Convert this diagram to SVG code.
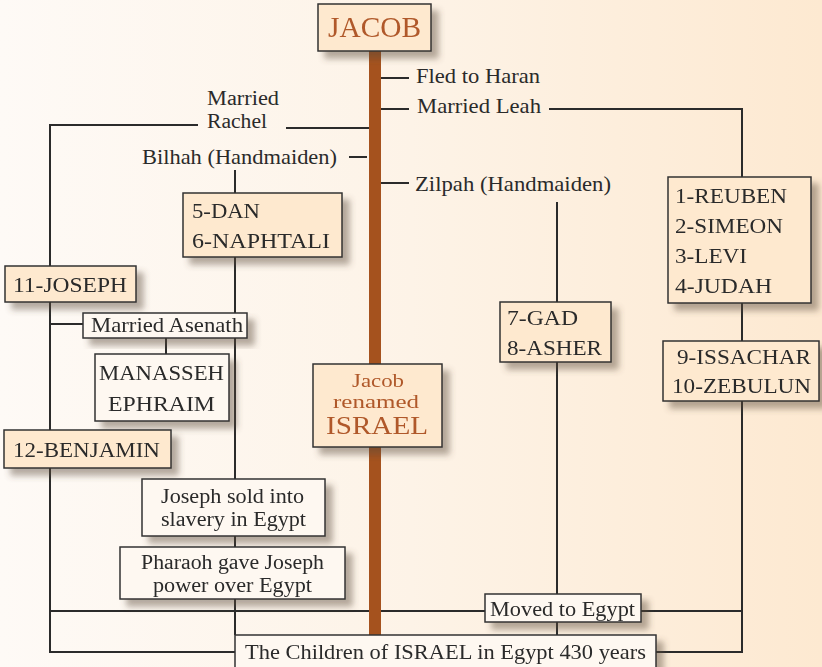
<svg xmlns="http://www.w3.org/2000/svg" width="822" height="667" viewBox="0 0 822 667">
<defs>
<linearGradient id="bg" x1="0" y1="0" x2="1" y2="0">
<stop offset="0" stop-color="#fefaf6"/>
<stop offset="0.5" stop-color="#fdf3e7"/>
<stop offset="1" stop-color="#fde9d1"/>
</linearGradient>
<filter id="sh" x="-20%" y="-20%" width="150%" height="160%">
<feGaussianBlur in="SourceAlpha" stdDeviation="3"/>
<feOffset dx="7" dy="7" result="b"/>
<feFlood flood-color="#5a4a3a" flood-opacity="0.45"/>
<feComposite in2="b" operator="in"/>
<feMerge><feMergeNode/><feMergeNode in="SourceGraphic"/></feMerge>
</filter>
<style>
.o{fill:#fee9cf;stroke:#333;stroke-width:1.5}
.w{fill:#fef8f1;stroke:#333;stroke-width:1.5}
.t{font-family:"Liberation Serif","Times New Roman",serif;font-size:22px;fill:#2a2a2a}
.s{font-size:20px}
.b{font-family:"Liberation Serif","Times New Roman",serif;fill:#b0592a}
.c{fill:none;stroke:#2b2b2b;stroke-width:2}
</style>
</defs>
<rect width="822" height="667" fill="url(#bg)"/>
<g id="connectors" class="c">
<path d="M381 78H409"/>
<path d="M381 109H409M549 109H742V177"/>
<path d="M286 128H369M198 125H50V266M50 302V430M50 468V652H235"/>
<path d="M50 324H83M166 338V354"/>
<path d="M349 157H367M235 170V193"/>
<path d="M235 257V479M235 536V547M235 599V635"/>
<path d="M381 183H409M557 202V302M557 362V594M557 622V635"/>
<path d="M742 303V341M742 401V652H656"/>
<path d="M50 611H485M641 611H742"/>
<rect id="trunk" x="369" y="51" width="12" height="585" fill="#a5521e" stroke="none"/>
</g>
<g id="labels">
<text class="t" x="416" y="83" textLength="124" lengthAdjust="spacingAndGlyphs">Fled to Haran</text>
<text class="t" x="417" y="113" textLength="124" lengthAdjust="spacingAndGlyphs">Married Leah</text>
<text class="t s" x="207" y="105" textLength="72" lengthAdjust="spacingAndGlyphs">Married</text>
<text class="t s" x="207" y="128" textLength="60" lengthAdjust="spacingAndGlyphs">Rachel</text>
<text class="t" x="142" y="164" textLength="195" lengthAdjust="spacingAndGlyphs">Bilhah (Handmaiden)</text>
<text class="t" x="415" y="191" textLength="196" lengthAdjust="spacingAndGlyphs">Zilpah (Handmaiden)</text>
</g>
<g id="jacob" filter="url(#sh)">
<rect class="o" x="318" y="4" width="113" height="47"/>
<text class="b" x="328" y="37" font-size="30" textLength="93" lengthAdjust="spacingAndGlyphs">JACOB</text>
</g>
<g id="dan" filter="url(#sh)">
<rect class="o" x="183" y="193" width="159" height="64"/>
<text class="t" x="192" y="218" textLength="68" lengthAdjust="spacingAndGlyphs">5-DAN</text>
<text class="t" x="192" y="248" textLength="138" lengthAdjust="spacingAndGlyphs">6-NAPHTALI</text>
</g>
<g id="joseph" filter="url(#sh)">
<rect class="o" x="5" y="266" width="131" height="36"/>
<text class="t" x="13" y="292" textLength="114" lengthAdjust="spacingAndGlyphs">11-JOSEPH</text>
</g>
<g id="asenath" filter="url(#sh)">
<rect class="w" x="83" y="313" width="164" height="25"/>
<text class="t" x="91" y="332" textLength="152" lengthAdjust="spacingAndGlyphs">Married Asenath</text>
</g>
<g id="manasseh" filter="url(#sh)">
<rect class="w" x="95" y="354" width="134" height="67"/>
<text class="t" x="99" y="380" textLength="125" lengthAdjust="spacingAndGlyphs">MANASSEH</text>
<text class="t" x="108" y="411" textLength="107" lengthAdjust="spacingAndGlyphs">EPHRAIM</text>
</g>
<g id="benjamin" filter="url(#sh)">
<rect class="o" x="4" y="430" width="167" height="38"/>
<text class="t" x="13" y="457" textLength="147" lengthAdjust="spacingAndGlyphs">12-BENJAMIN</text>
</g>
<g id="israel" filter="url(#sh)">
<rect class="o" x="313" y="364" width="129" height="83"/>
<text class="b" x="352" y="387" font-size="19" textLength="52" lengthAdjust="spacingAndGlyphs">Jacob</text>
<text class="b" x="333" y="408" font-size="19" textLength="86" lengthAdjust="spacingAndGlyphs">renamed</text>
<text class="b" x="326" y="434" font-size="26" textLength="102" lengthAdjust="spacingAndGlyphs">ISRAEL</text>
</g>
<g id="gad" filter="url(#sh)">
<rect class="o" x="500" y="302" width="111" height="60"/>
<text class="t" x="507" y="325" textLength="71" lengthAdjust="spacingAndGlyphs">7-GAD</text>
<text class="t" x="507" y="355" textLength="95" lengthAdjust="spacingAndGlyphs">8-ASHER</text>
</g>
<g id="reuben" filter="url(#sh)">
<rect class="o" x="668" y="177" width="143" height="126"/>
<text class="t" x="675" y="203" textLength="112" lengthAdjust="spacingAndGlyphs">1-REUBEN</text>
<text class="t" x="675" y="233" textLength="108" lengthAdjust="spacingAndGlyphs">2-SIMEON</text>
<text class="t" x="675" y="263" textLength="72" lengthAdjust="spacingAndGlyphs">3-LEVI</text>
<text class="t" x="675" y="293" textLength="97" lengthAdjust="spacingAndGlyphs">4-JUDAH</text>
</g>
<g id="issachar" filter="url(#sh)">
<rect class="o" x="663" y="341" width="156" height="60"/>
<text class="t" x="677" y="364" textLength="134" lengthAdjust="spacingAndGlyphs">9-ISSACHAR</text>
<text class="t" x="672" y="393" textLength="139" lengthAdjust="spacingAndGlyphs">10-ZEBULUN</text>
</g>
<g id="sold" filter="url(#sh)">
<rect class="w" x="142" y="479" width="183" height="57"/>
<text class="t s" x="161" y="503" textLength="143" lengthAdjust="spacingAndGlyphs">Joseph sold into</text>
<text class="t s" x="161" y="526" textLength="145" lengthAdjust="spacingAndGlyphs">slavery in Egypt</text>
</g>
<g id="pharaoh" filter="url(#sh)">
<rect class="w" x="120" y="547" width="225" height="52"/>
<text class="t s" x="141" y="569" textLength="183" lengthAdjust="spacingAndGlyphs">Pharaoh gave Joseph</text>
<text class="t s" x="153" y="592" textLength="159" lengthAdjust="spacingAndGlyphs">power over Egypt</text>
</g>
<g id="moved" filter="url(#sh)">
<rect class="w" x="485" y="594" width="156" height="28"/>
<text class="t" x="490" y="616" textLength="145" lengthAdjust="spacingAndGlyphs">Moved to Egypt</text>
</g>
<g id="children" filter="url(#sh)">
<rect class="w" x="235" y="635" width="421" height="40"/>
<text class="t" x="245" y="659" textLength="401" lengthAdjust="spacingAndGlyphs">The Children of ISRAEL in Egypt 430 years</text>
</g>
</svg>
